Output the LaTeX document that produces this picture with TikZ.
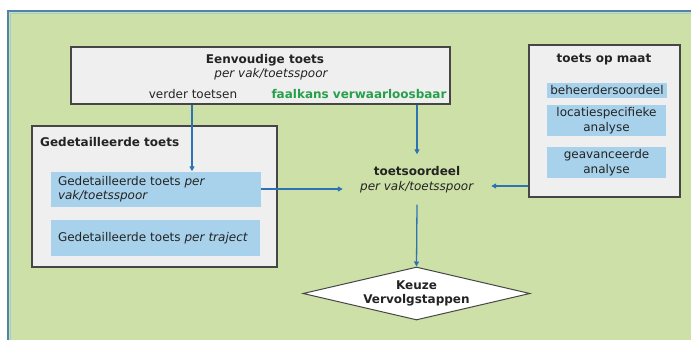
\documentclass[tikz,border=0pt]{standalone}
\usepackage{fontspec}
\setmainfont{DejaVu Sans}
\usetikzlibrary{shapes.geometric,arrows.meta,calc}
\definecolor{bggreen}{RGB}{205,224,167}
\definecolor{framebl}{RGB}{80,130,170}
\definecolor{framelt}{RGB}{160,205,215}
\definecolor{boxgray}{RGB}{239,239,239}
\definecolor{boxline}{RGB}{70,70,70}
\definecolor{innerbl}{RGB}{168,210,235}
\definecolor{arrbl}{RGB}{45,115,180}
\definecolor{txt}{RGB}{35,35,35}
\definecolor{grtxt}{RGB}{40,160,75}
\newcommand\fsz{\fontsize{12}{14.5}\selectfont}
\tikzset{
 base/.style={font=\fsz, text=txt},
 graybox/.style={draw=boxline, line width=1.2pt, fill=boxgray, inner sep=0pt},
 bluebox/.style={base, fill=innerbl, inner sep=0pt},
 arr/.style={draw=arrbl, line width=1.3pt, -{Triangle[length=5pt,width=5pt]}},
 lbl/.style={base, inner sep=0pt, anchor=base},
}
\begin{document}
\begin{tikzpicture}[x=1pt,y=-1pt]
\useasboundingbox (0,0) rectangle (691,340);
\fill[white] (0,0) rectangle (691,340);
\fill[bggreen] (8,11) rectangle (691,340);
\draw[framelt, line width=1pt] (10.6,340) -- (10.6,13.6) -- (691,13.6);
\draw[framebl, line width=2.2pt] (8,340) -- (8,11) -- (691,11);

% Eenvoudige toets
\node[graybox, minimum width=379pt, minimum height=57pt] (eenv) at (260.5,75.5) {};
\node[lbl, font=\fsz\bfseries] (etitle) at (265,63) {Eenvoudige toets};
\node[lbl, font=\fsz\itshape] (esub) at (271,77) {per vak/toetsspoor};
\node[lbl] (verder) at (193,98) {verder toetsen};
\node[lbl, font=\fsz\bfseries, text=grtxt] (faal) at (359,98) {faalkans verwaarloosbaar};

% Gedetailleerde toets
\node[graybox, minimum width=245pt, minimum height=141pt] (ged) at (154.5,196.5) {};
\node[lbl, font=\fsz\bfseries, anchor=base west] (gtitle) at (40,146) {Gedetailleerde toets};
\node[bluebox, text width=196pt, inner xsep=7pt, minimum height=35pt, align=left] (d1) at (156,189)
  {Gedetailleerde toets \textit{per}\\\textit{vak/toetsspoor}};
\node[bluebox, text width=195pt, inner xsep=7pt, minimum height=36pt, align=left] (d2) at (155.5,238)
  {Gedetailleerde toets \textit{per traject}};

% toetsoordeel
\node[base, align=center, minimum width=148pt, minimum height=50pt, inner sep=0pt] (oord) at (417,179.5)
  {\textbf{toetsoordeel}\\\textit{per vak/toetsspoor}};

% toets op maat
\node[graybox, minimum width=151pt, minimum height=152pt] (maat) at (604.5,121) {};
\node[lbl, font=\fsz\bfseries] (mtitle) at (604,62) {toets op maat};
\node[bluebox, minimum width=120pt, minimum height=15pt] (m1) at (607,90) {beheerdersoordeel};
\node[bluebox, minimum width=119pt, minimum height=31pt, align=center] (m2) at (606.5,120.5) {locatiespecifieke\\analyse};
\node[bluebox, minimum width=119pt, minimum height=31pt, align=center] (m3) at (606.5,162.5) {geavanceerde\\analyse};

% Keuze
\node[diamond, draw=boxline, fill=white, line width=1pt, aspect=4.3, minimum width=227pt, minimum height=53pt,
  inner sep=0pt, base, font=\fsz\bfseries, align=center] (keuze) at (416.5,293.5) {Keuze\\Vervolgstappen};

% arrows
\coordinate (xa) at (192,0);
\coordinate (ya) at (0,186);
\draw[arr] (eenv.south -| xa) -- (d1.north -| xa);
\draw[arr] (eenv.south -| oord) -- (oord.north);
\draw[arr] (d1.east) -- (d1.east -| oord.west);
\draw[arr] (maat.west |- ya) -- (oord.east |- ya);
\draw[arr] (oord.south) -- (keuze.north);
\end{tikzpicture}
\end{document}
